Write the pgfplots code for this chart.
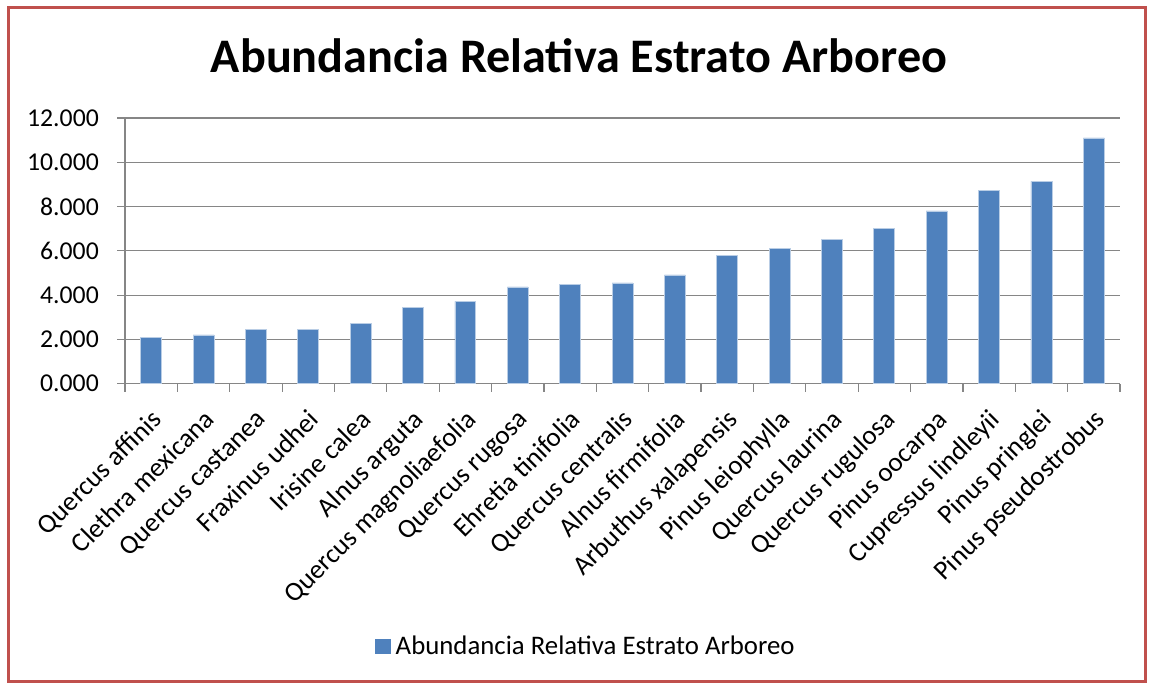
\documentclass[border=0pt]{standalone}
\usepackage{pgfplots}
\pgfplotsset{compat=1.18}
\usepackage{fontspec}
\setmainfont{Carlito}

\definecolor{barblue}{RGB}{79,129,189}
\definecolor{baredge}{RGB}{185,205,229}
\definecolor{gridgray}{RGB}{134,134,134}
\definecolor{framered}{RGB}{192,80,77}

\begin{document}
\begin{tikzpicture}
  \useasboundingbox (0,0) rectangle (1149bp,685bp);
  % outer frame
  \draw[framered, line width=3bp] (8bp,3bp) rectangle (1145bp,677bp);

  \node[anchor=base, font=\fontsize{48.2bp}{56bp}\selectfont\bfseries]
    at (579bp,612.3bp) {Abundancia Relativa Estrato Arboreo};

  \begin{axis}[
    at={(125bp,301.3bp)}, anchor=south west,
    scale only axis,
    width=995bp, height=265.7bp,
    xmin=-0.5, xmax=18.5,
    ymin=0, ymax=12,
    axis x line*=bottom,
    axis y line*=left,
    axis line style={gridgray, line width=1.2bp},
    ymajorgrids,
    grid style={gridgray, line width=1.2bp},
    tick align=outside,
    major tick length=8bp,
    tick style={gridgray, line width=1.2bp},
    ytick={0,2,...,12},
    yticklabel style={font=\fontsize{25.7bp}{30bp}\selectfont, inner sep=0pt, xshift=-18bp,
      /pgf/number format/.cd, fixed, fixed zerofill, precision=3, assume math mode=true},
    xtick={-0.5,0.5,...,18.5},
    xticklabels={},
    extra x ticks={0,1,...,18},
    extra x tick style={major tick length=0pt, tick style={draw=none}},
    extra x tick labels={Quercus affinis, Clethra mexicana, Quercus castanea, Fraxinus udhei,
      Irisine calea, Alnus arguta, Quercus magnoliaefolia, Quercus rugosa, Ehretia tinifolia,
      Quercus centralis, Alnus firmifolia, Arbuthus xalapensis, Pinus leiophylla,
      Quercus laurina, Quercus rugulosa, Pinus oocarpa, Cupressus lindleyii,
      Pinus pringlei, Pinus pseudostrobus},
    xticklabel style={font=\fontsize{27bp}{32bp}\selectfont, rotate=45, anchor=north east,
      inner sep=0pt, xshift=-18bp, yshift=-16bp},
    legend style={draw=none, fill=none, inner sep=0pt, at={(0.251,-0.988)}, anchor=west,
      font=\fontsize{26.8bp}{31bp}\selectfont},
    legend cell align=left,
    legend image code/.code={\fill[barblue] (0bp,-7.3bp) rectangle (14.6bp,7.3bp);
      \path (18bp,0bp);},
  ]
    \addplot[ybar, bar width=0.4, fill=barblue, draw=baredge, line width=0.8bp] coordinates {
      (0,2.09) (1,2.20) (2,2.45) (3,2.45) (4,2.74) (5,3.46) (6,3.72) (7,4.37)
      (8,4.49) (9,4.55) (10,4.91) (11,5.81) (12,6.11) (13,6.53) (14,7.03)
      (15,7.80) (16,8.72) (17,9.14) (18,11.10)
    };
    \addlegendentry{Abundancia Relativa Estrato Arboreo}
  \end{axis}
\end{tikzpicture}
\end{document}
